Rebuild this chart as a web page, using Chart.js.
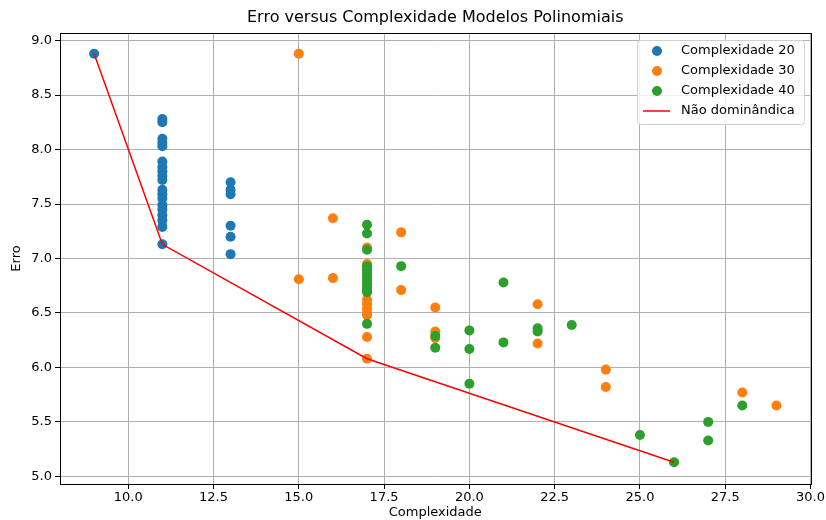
<!DOCTYPE html>
<html>
<head>
<meta charset="utf-8">
<script src="https://cdn.jsdelivr.net/npm/chart.js@4.4.0/dist/chart.umd.min.js"></script>
<style>
  body { margin: 0; background: #fff; }
</style>
</head>
<body>
<canvas id="grafico" width="826" height="520"></canvas>
<script>
// dados
var titulo = 'Erro versus Complexidade Modelos Polinomiais';
var nomes = ['Complexidade 20', 'Complexidade 30', 'Complexidade 40', 'Não dominândica'];

var c20X = [9, 11, 11, 11, 11, 11, 11, 11, 11, 11, 11, 11, 11, 11, 11, 11, 11, 11, 11, 11, 13, 13, 13, 13, 13, 13];
var c20Y = [8.88, 8.28, 8.25, 8.10, 8.06, 8.03, 7.89, 7.84, 7.80, 7.76, 7.72, 7.63, 7.59, 7.55, 7.49, 7.45, 7.40, 7.35, 7.29, 7.13, 7.70, 7.63, 7.59, 7.30, 7.20, 7.04];

var c30X = [15, 15, 16, 16, 17, 17, 17, 17, 17, 17, 17, 17, 17, 17, 17, 18, 18, 19, 19, 19, 22, 22, 24, 24, 28, 29];
var c30Y = [8.88, 6.81, 7.37, 6.82, 7.10, 6.95, 6.90, 6.71, 6.62, 6.58, 6.54, 6.50, 6.48, 6.28, 6.08, 7.24, 6.71, 6.55, 6.33, 6.27, 6.58, 6.22, 5.98, 5.82, 5.77, 5.65];

var c40X = [17, 17, 17, 17, 17, 17, 17, 17, 17, 17, 17, 17, 17, 18, 19, 19, 20, 20, 20, 21, 21, 22, 22, 23, 25, 26, 27, 27, 28];
var c40Y = [7.31, 7.23, 7.08, 6.93, 6.89, 6.86, 6.83, 6.80, 6.77, 6.74, 6.71, 6.69, 6.40, 6.93, 6.29, 6.18, 6.34, 6.17, 5.85, 6.78, 6.23, 6.36, 6.33, 6.39, 5.38, 5.13, 5.50, 5.33, 5.65];

var frenteX = [9, 11, 17, 26];
var frenteY = [8.88, 7.13, 6.08, 5.13];

var ticksX = [10, 12.5, 15, 17.5, 20, 22.5, 25, 27.5, 30];
var ticksY = [5.0, 5.5, 6.0, 6.5, 7.0, 7.5, 8.0, 8.5, 9.0];

var cores = ['#1f77b4', '#ff7f0e', '#2ca02c', '#ff0000'];

function pares(xs, ys) {
    return xs.map(function (x, i) { return { x: x, y: ys[i] }; });
}

var fonte = 'DejaVu Sans';

// titulo centrado na area, moldura (top/right) e legenda dentro da area
var moldura = {
    id: 'moldura',
    afterDraw: function (chart) {
        var c = chart.ctx;
        var a = chart.chartArea;
        c.save();
        c.strokeStyle = '#000';
        c.lineWidth = 1;
        c.strokeRect(Math.round(a.left) + 0.5, Math.round(a.top) + 0.5, Math.round(a.right - a.left), Math.round(a.bottom - a.top));

        c.font = '16px "' + fonte + '"';
        c.fillStyle = '#000';
        c.textAlign = 'center';
        c.textBaseline = 'middle';
        c.fillText(titulo, (a.left + a.right) / 2, 18);

        // legenda
        var bx = 637.5, by = 40.5, bw = 167, bh = 84;
        c.beginPath();
        c.roundRect(bx, by, bw, bh, 3);
        c.fillStyle = 'rgba(255,255,255,0.8)';
        c.fill();
        c.strokeStyle = '#d0d0d0';
        c.stroke();

        c.font = '13px "' + fonte + '"';
        c.textBaseline = 'middle';
        c.textAlign = 'left';
        var linhas = [51, 71, 91, 111];
        for (var i = 0; i < nomes.length; i++) {
            if (i < 3) {
                c.beginPath();
                c.arc(657, linhas[i], 5, 0, Math.PI * 2);
                c.fillStyle = cores[i];
                c.fill();
            } else {
                c.beginPath();
                c.moveTo(643, linhas[i]);
                c.lineTo(670, linhas[i]);
                c.strokeStyle = cores[i];
                c.lineWidth = 1.5;
                c.stroke();
            }
            c.fillStyle = '#000';
            c.fillText(nomes[i], 681, linhas[i]);
        }
        c.restore();
    }
};

function fixarTicks(lista) {
    return function (scale) {
        scale.ticks = lista.map(function (v) { return { value: v }; });
    };
}

ctx = document.getElementById('grafico').getContext('2d');
myChart = new Chart(ctx, {
    type: 'scatter',
    data: {
        datasets: [
            { label: nomes[0], data: pares(c20X, c20Y), backgroundColor: cores[0], borderWidth: 0, pointRadius: 5, order: 4 },
            { label: nomes[1], data: pares(c30X, c30Y), backgroundColor: cores[1], borderWidth: 0, pointRadius: 5, order: 3 },
            { label: nomes[2], data: pares(c40X, c40Y), backgroundColor: cores[2], borderWidth: 0, pointRadius: 5, order: 2 },
            { label: nomes[3], type: 'line', data: pares(frenteX, frenteY), borderColor: cores[3], borderWidth: 1.5, pointRadius: 0, fill: false, tension: 0, order: 1 }
        ]
    },
    options: {
        responsive: false,
        animation: false,
        layout: { padding: { left: 0, right: 14, top: 33, bottom: 0 } },
        plugins: {
            legend: { display: false },
            tooltip: { enabled: false },
            title: { display: false }
        },
        scales: {
            x: {
                type: 'linear',
                min: 8,
                max: 30,
                afterBuildTicks: fixarTicks(ticksX),
                afterFit: function (scale) { scale.height = 36; },
                grid: { color: '#b0b0b0', tickColor: '#000', tickLength: 5, lineWidth: 1 },
                border: { color: '#000', width: 1 },
                ticks: {
                    color: '#000',
                    padding: 1,
                    maxRotation: 0,
                    font: { family: fonte, size: 13 },
                    callback: function (v) { return Number(v).toFixed(1); }
                },
                title: {
                    display: true,
                    text: 'Complexidade',
                    color: '#000',
                    font: { family: fonte, size: 13 },
                    padding: { top: -1, bottom: 0 }
                }
            },
            y: {
                type: 'linear',
                min: 4.93,
                max: 9.07,
                afterBuildTicks: fixarTicks(ticksY),
                afterFit: function (scale) { scale.width = 60; },
                grid: { color: '#b0b0b0', tickColor: '#000', tickLength: 5, lineWidth: 1 },
                border: { color: '#000', width: 1 },
                ticks: {
                    color: '#000',
                    padding: 3,
                    font: { family: fonte, size: 13 },
                    callback: function (v) { return Number(v).toFixed(1); }
                },
                title: {
                    display: true,
                    text: 'Erro',
                    color: '#000',
                    font: { family: fonte, size: 13 },
                    padding: { top: 9, bottom: 0 }
                }
            }
        }
    },
    plugins: [moldura]
});
</script>
</body>
</html>
